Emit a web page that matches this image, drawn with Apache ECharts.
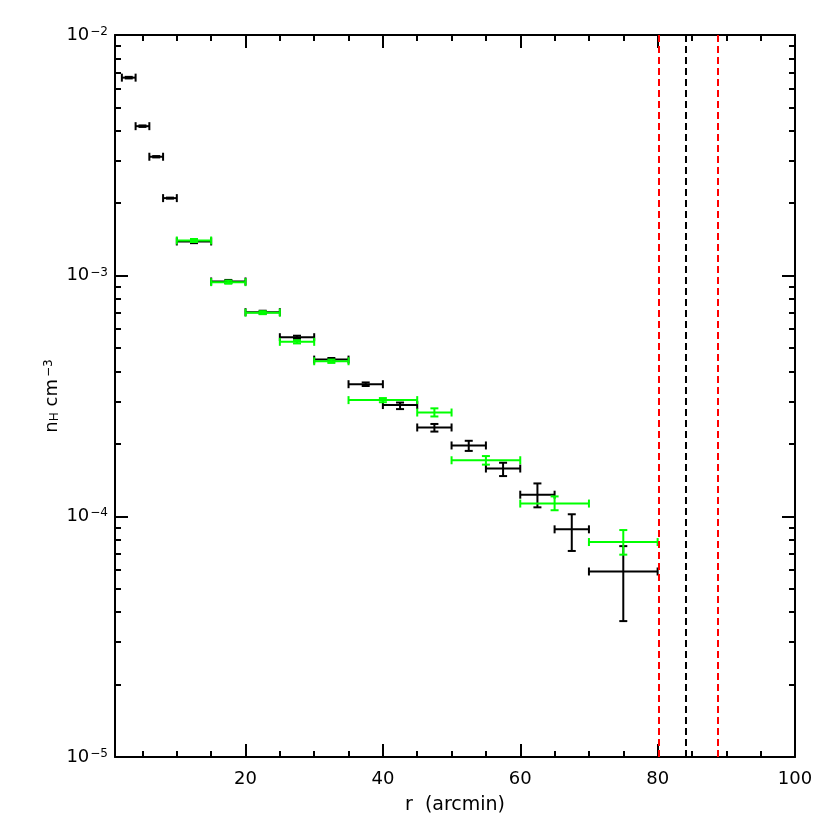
<!DOCTYPE html>
<html>
<head>
<meta charset="utf-8">
<script src="https://cdn.jsdelivr.net/npm/echarts@6/dist/echarts.min.js"></script>
<style>
  html, body { margin: 0; padding: 0; background: #fff; }
  #chart { width: 830px; height: 830px; }
</style>
</head>
<body>
<div id="chart"></div>
<script>
// radial bins (arcmin) and density for the two profiles
// each row: [r_lo, r_hi, r_center, nH, nH_lo, nH_hi]
const blackBins = [
  [2, 4, 3, 6.65e-3, 6.60e-3, 6.70e-3],
  [4, 6, 5, 4.18e-3, 4.15e-3, 4.21e-3],
  [6, 8, 7, 3.12e-3, 3.10e-3, 3.14e-3],
  [8, 10, 9, 2.10e-3, 2.09e-3, 2.11e-3],
  [10, 15, 12.5, 1.387e-3, 1.365e-3, 1.41e-3],
  [15, 20, 17.5, 9.46e-4, 9.32e-4, 9.60e-4],
  [20, 25, 22.5, 7.05e-4, 6.95e-4, 7.15e-4],
  [25, 30, 27.5, 5.55e-4, 5.47e-4, 5.63e-4],
  [30, 35, 32.5, 4.48e-4, 4.41e-4, 4.55e-4],
  [35, 40, 37.5, 3.54e-4, 3.48e-4, 3.60e-4],
  [40, 45, 42.5, 2.90e-4, 2.79e-4, 2.97e-4],
  [45, 50, 47.5, 2.34e-4, 2.25e-4, 2.42e-4],
  [50, 55, 52.5, 1.97e-4, 1.87e-4, 2.06e-4],
  [55, 60, 57.5, 1.58e-4, 1.47e-4, 1.67e-4],
  [60, 65, 62.5, 1.23e-4, 1.09e-4, 1.37e-4],
  [65, 70, 67.5, 8.83e-5, 7.18e-5, 1.02e-4],
  [70, 80, 75, 5.90e-5, 3.67e-5, 7.52e-5],
];
const greenBins = [
  [10, 15, 12.5, 1.40e-3, 1.38e-3, 1.42e-3],
  [15, 20, 17.5, 9.40e-4, 9.26e-4, 9.54e-4],
  [20, 25, 22.5, 7.02e-4, 6.92e-4, 7.12e-4],
  [25, 30, 27.5, 5.31e-4, 5.23e-4, 5.39e-4],
  [30, 35, 32.5, 4.41e-4, 4.34e-4, 4.48e-4],
  [35, 45, 40, 3.04e-4, 2.98e-4, 3.10e-4],
  [45, 50, 47.5, 2.70e-4, 2.60e-4, 2.81e-4],
  [50, 60, 55, 1.71e-4, 1.64e-4, 1.78e-4],
  [60, 70, 65, 1.13e-4, 1.06e-4, 1.21e-4],
  [70, 80, 75, 7.82e-5, 6.93e-5, 8.77e-5],
];

// vertical dashed markers
const markerR = [80.1, 84.1, 88.8];
const markerColors = ['#ff0000', '#000000', '#ff0000'];

const xMajor = [20, 40, 60, 80, 100];
const xMinor = [5, 10, 15, 25, 30, 35, 45, 50, 55, 65, 70, 75, 85, 90, 95];
const yMajor = [1e-5, 1e-4, 1e-3, 1e-2];
const yMinor = [];
[1e-5, 1e-4, 1e-3].forEach(d => { for (let k = 2; k <= 9; k++) yMinor.push(+(k * d).toPrecision(3)); });

const FONT = 'DejaVu Sans';

function errorBars(color) {
  return function (params, api) {
    const yc = api.value(3);
    const a = api.coord([api.value(0), yc]);
    const b = api.coord([api.value(1), yc]);
    const t = api.coord([api.value(2), api.value(5)]);
    const u = api.coord([api.value(2), api.value(4)]);
    const cap = 4;
    const seg = (x1, y1, x2, y2) => ({
      type: 'line',
      shape: { x1, y1, x2, y2 },
      style: { stroke: color, lineWidth: 2 }
    });
    return {
      type: 'group',
      children: [
        seg(a[0], a[1], b[0], b[1]),
        seg(a[0], a[1] - cap, a[0], a[1] + cap),
        seg(b[0], b[1] - cap, b[0], b[1] + cap),
        seg(t[0], t[1], u[0], u[1]),
        seg(t[0] - cap, t[1], t[0] + cap, t[1]),
        seg(u[0] - cap, u[1], u[0] + cap, u[1]),
      ]
    };
  };
}

const tickStyle = { color: '#000', width: 2 };

function xAx(pos, ticks, len, opts) {
  return Object.assign({
    type: 'value', position: pos, min: 1, max: 100,
    axisLine: { show: false, onZero: false },
    axisTick: { inside: true, length: len, lineStyle: tickStyle, customValues: ticks },
    axisLabel: { show: false },
    splitLine: { show: false },
  }, opts || {});
}
function yAx(pos, ticks, len, opts) {
  return Object.assign({
    type: 'log', logBase: 10, position: pos, min: 1e-5, max: 1e-2,
    axisLine: { show: false, onZero: false },
    axisTick: { inside: true, length: len, lineStyle: tickStyle, customValues: ticks },
    axisLabel: { show: false },
    splitLine: { show: false },
  }, opts || {});
}

const chart = echarts.init(document.getElementById('chart'), null, { renderer: 'canvas' });
chart.setOption({
  backgroundColor: '#fff',
  animation: false,
  grid: { left: 115, right: 35, top: 35, bottom: 73, outerBoundsMode: 'none' },
  xAxis: [
    xAx('bottom', xMajor, 13, {
      axisLine: { show: true, onZero: false, lineStyle: { color: '#000', width: 2 } },
      axisLabel: {
        show: true, customValues: xMajor, margin: 13,
        color: '#000', fontFamily: FONT, fontSize: 18
      },
      name: 'r  (arcmin)', nameLocation: 'middle', nameGap: 39, nameMoveOverlap: false,
      nameTextStyle: { color: '#000', fontFamily: FONT, fontSize: 19 }
    }),
    xAx('bottom', xMinor, 6),
    xAx('top', xMajor, 13, {
      axisLine: { show: true, onZero: false, lineStyle: { color: '#000', width: 2 } }
    }),
    xAx('top', xMinor, 6),
  ],
  yAxis: [
    yAx('left', yMajor, 13, {
      axisLine: { show: true, onZero: false, lineStyle: { color: '#000', width: 2 } },
      axisLabel: {
        show: true, customValues: yMajor, margin: 7,
        formatter: v => '{b|10}{s|−' + (-Math.round(Math.log10(v))) + '}',
        rich: {
          b: { color: '#000', fontFamily: FONT, fontSize: 18, lineHeight: 18, verticalAlign: 'bottom' },
          s: { color: '#000', fontFamily: FONT, fontSize: 12, lineHeight: 12, verticalAlign: 'top', padding: [0, 0, 9, 1] }
        }
      },
      name: 'n{sub|H} cm{sup|−3}', nameLocation: 'middle', nameGap: 54, nameRotate: 90,
      nameMoveOverlap: false,
      nameTextStyle: {
        color: '#000', fontFamily: FONT, fontSize: 18,
        rich: {
          sub: { color: '#000', fontFamily: FONT, fontSize: 12, verticalAlign: 'bottom', lineHeight: 12 },
          sup: { color: '#000', fontFamily: FONT, fontSize: 12, verticalAlign: 'top', lineHeight: 12, padding: [0, 0, 14, 2] }
        }
      }
    }),
    yAx('left', yMinor, 6),
    yAx('right', yMajor, 13, {
      axisLine: { show: true, onZero: false, lineStyle: { color: '#000', width: 2 } }
    }),
    yAx('right', yMinor, 6),
  ],
  series: [
    {
      name: 'profile',
      type: 'custom',
      xAxisIndex: 0, yAxisIndex: 0,
      renderItem: errorBars('#000000'),
      encode: { x: [0, 1, 2], y: [3, 4, 5] },
      data: blackBins,
      z: 2,
      markLine: {
        silent: true,
        symbol: 'none',
        label: { show: false },
        data: markerR.map((r, i) => ({
          xAxis: r,
          lineStyle: { color: markerColors[i], width: 2, type: [7, 4] }
        }))
      }
    },
    {
      name: 'profile 2',
      type: 'custom',
      xAxisIndex: 0, yAxisIndex: 0,
      renderItem: errorBars('#00ff00'),
      encode: { x: [0, 1, 2], y: [3, 4, 5] },
      data: greenBins,
      z: 3
    }
  ]
});
</script>
</body>
</html>
